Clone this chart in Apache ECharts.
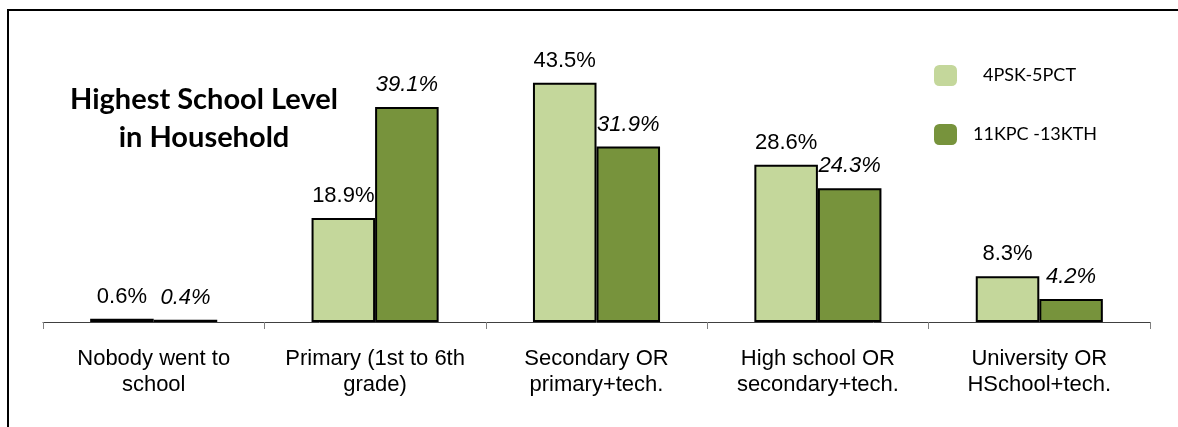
<!DOCTYPE html>
<html>
<head>
<meta charset="utf-8">
<script src="https://cdn.jsdelivr.net/npm/echarts@6/dist/echarts.min.js"></script>
<style>
  html, body { margin: 0; padding: 0; background: #fff; }
  #chart { width: 1178px; height: 427px; }
</style>
</head>
<body>
<div id="chart"></div>
<script>
// Highest school level reached in the household, by area group (percent)
const categories = [
  'Nobody went to\nschool',
  'Primary (1st to 6th\ngrade)',
  'Secondary OR\nprimary+tech.',
  'High school OR\nsecondary+tech.',
  'University OR\nHSchool+tech.'
];
const seriesNames = ['4PSK-5PCT', '11KPC -13KTH'];
const valuesA = [0.6, 18.9, 43.5, 28.6, 8.3];
const valuesB = [0.4, 39.1, 31.9, 24.3, 4.2];
const chartTitle = 'Highest School Level\nin Household';

const chart = echarts.init(document.getElementById('chart'), null, { renderer: 'canvas' });

const labelFont = '"Liberation Sans", Arial, sans-serif';

chart.setOption({
  animation: false,
  backgroundColor: '#ffffff',
  grid: { left: 43, right: 28, top: 47, bottom: 105 },
  legend: {
    orient: 'vertical',
    left: 934,
    top: 65,
    padding: 0,
    itemWidth: 23,
    itemHeight: 21,
    itemGap: 38,
    icon: 'roundRect',
    itemStyle: { borderWidth: 0 },
    data: seriesNames,
    formatter: function (name) {
      return name === seriesNames[0] ? '{a|' + name + '}' : '{b|' + name + '}';
    },
    textStyle: {
      fontFamily: 'Lato, "Open Sans", sans-serif',
      fontSize: 18,
      color: '#000',
      rich: {
        a: { fontFamily: 'Lato, sans-serif', fontSize: 18, color: '#000', padding: [0, 0, 0, 21] },
        b: { fontFamily: 'Lato, sans-serif', fontSize: 18, color: '#000', padding: [0, 0, 0, 11] }
      }
    }
  },
  xAxis: {
    type: 'category',
    data: categories,
    axisLine: { lineStyle: { color: '#404040', width: 1 } },
    axisTick: { show: true, length: 7, lineStyle: { color: '#808080' } },
    axisLabel: {
      margin: 24,
      color: '#000',
      fontFamily: labelFont,
      fontSize: 22,
      lineHeight: 26,
      interval: 0
    }
  },
  yAxis: {
    type: 'value',
    min: 0,
    max: 50,
    show: false,
    splitLine: { show: false }
  },
  series: [
    {
      name: seriesNames[0],
      type: 'bar',
      data: valuesA,
      barGap: '0%',
      barCategoryGap: '42.6%',
      itemStyle: { color: '#c4d79b', borderColor: '#000', borderWidth: 2 },
      label: {
        show: true,
        position: 'top',
        distance: 11,
        formatter: p => p.value.toFixed(1) + '%',
        fontFamily: labelFont,
        fontSize: 22,
        color: '#000'
      }
    },
    {
      name: seriesNames[1],
      type: 'bar',
      data: valuesB,
      itemStyle: { color: '#77933c', borderColor: '#000', borderWidth: 2 },
      label: {
        show: true,
        position: 'top',
        distance: 11,
        formatter: p => p.value.toFixed(1) + '%',
        fontFamily: labelFont,
        fontStyle: 'italic',
        fontSize: 22,
        color: '#000'
      }
    }
  ],
  graphic: [
    {
      type: 'rect',
      silent: true,
      shape: { x: 8, y: 10, width: 1200, height: 500 },
      style: { fill: 'none', stroke: '#000', lineWidth: 2 }
    },
    {
      type: 'text',
      silent: true,
      x: 204,
      y: 81,
      style: {
        text: chartTitle,
        fill: '#000',
        font: 'bold 29px Lato, sans-serif',
        textAlign: 'center',
        lineHeight: 38
      }
    }
  ]
});
</script>
</body>
</html>
